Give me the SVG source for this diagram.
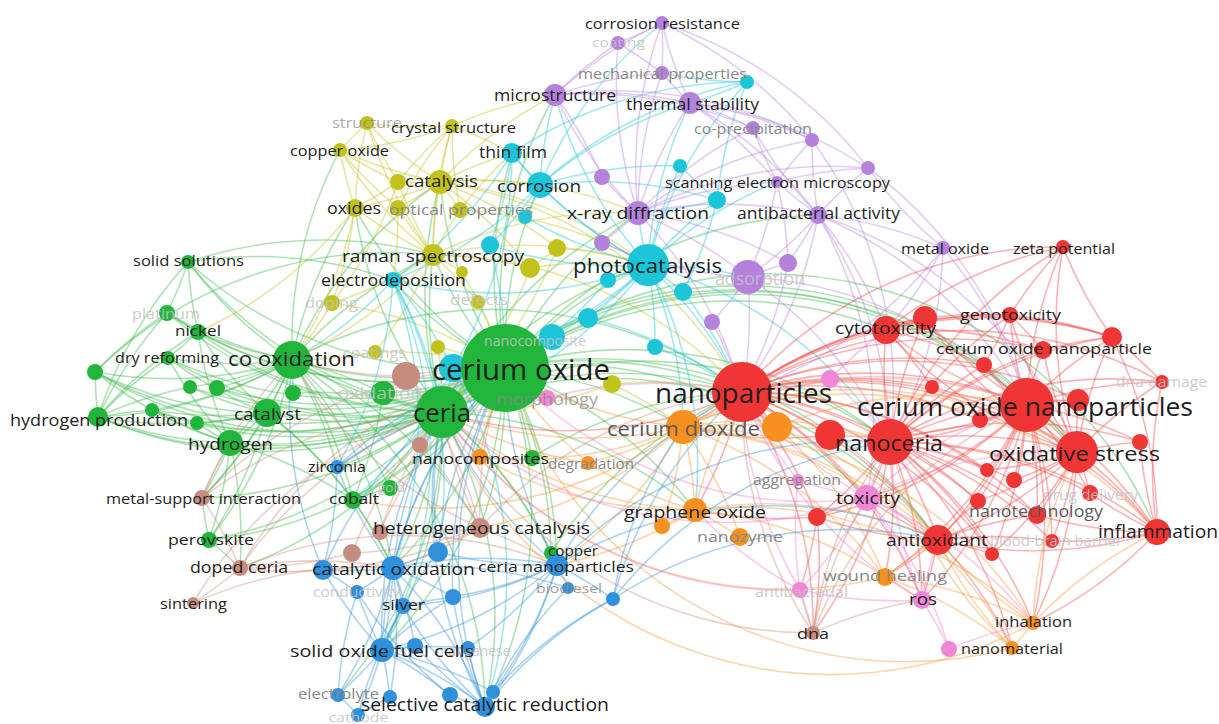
<svg xmlns="http://www.w3.org/2000/svg" width="1219" height="724" viewBox="0 0 1219 724">
<style>
.e path{fill:none;stroke-width:1.6;stroke-opacity:.42}
.g{stroke:#3dbb4c}.y{stroke:#c4c42a}.c{stroke:#22c6da}.p{stroke:#bb88e0}.r{stroke:#f24a4a}.o{stroke:#f79a3a}.k{stroke:#ef80d2}.b{stroke:#3a96de}.n{stroke:#cf8f80}
.ng{fill:#22b53c}.ny{fill:#c2c21d}.nc{fill:#1cc6d8}.np{fill:#b482dc}.nr{fill:#f03535}.no{fill:#f7901e}.nk{fill:#ef86d6}.nb{fill:#2f90db}.nn{fill:#c68c7f}
text{font-family:"Open Sans","Liberation Sans",sans-serif;text-anchor:middle;dominant-baseline:central}
.t{fill:#1e1e1e}.m{fill:#5a5a5a}.l{fill:#888}.f{fill:#c4c4c4;opacity:.85}
</style>
<rect width="1219" height="724" fill="#fff"/>
<g id="connectors" class="e">
<path class="g" d="M505 368A420 420 0 0 1 442 412"/><path class="g" d="M505 368A420 420 0 0 1 292 360"/><path class="g" d="M505 368A420 420 0 0 1 267 413"/><path class="g" d="M505 368A420 420 0 0 1 230 443"/><path class="g" d="M505 368A420 420 0 0 1 98 417"/><path class="g" d="M505 368A420 420 0 0 1 198 332"/><path class="g" d="M505 368A420 420 0 0 1 168 358"/><path class="g" d="M505 368A420 420 0 0 1 188 262"/><path class="g" d="M505 368A420 420 0 0 1 167 313"/><path class="g" d="M505 368A420 420 0 0 1 95 372"/><path class="g" d="M505 368A420 420 0 0 1 190 387"/><path class="g" d="M505 368A420 420 0 0 1 217 388"/><path class="g" d="M505 368A420 420 0 0 1 152 410"/><path class="g" d="M505 368A420 420 0 0 1 197 423"/><path class="g" d="M505 368A420 420 0 0 1 383 393"/><path class="g" d="M505 368A420 420 0 0 1 209 540"/><path class="g" d="M505 368A420 420 0 0 1 353 500"/><path class="g" d="M505 368A420 420 0 0 1 390 488"/><path class="g" d="M505 368A420 420 0 0 1 551 553"/><path class="g" d="M505 368A420 420 0 0 1 532 458"/><path class="g" d="M505 368A420 420 0 0 1 742 392"/><path class="g" d="M505 368A420 420 0 0 1 1027 405"/><path class="g" d="M505 368A420 420 0 0 1 890 442"/><path class="g" d="M505 368A420 420 0 0 1 648 265"/><path class="g" d="M505 368A420 420 0 0 1 433 255"/><path class="g" d="M505 368A420 420 0 0 1 440 182"/><path class="g" d="M505 368A420 420 0 0 1 512 153"/><path class="g" d="M505 368A420 420 0 0 1 638 213"/><path class="g" d="M505 368A420 420 0 0 1 1077 452"/><path class="g" d="M505 368A420 420 0 0 1 938 540"/><path class="g" d="M505 368A420 420 0 0 1 382 650"/><path class="g" d="M505 368A420 420 0 0 1 557 565"/><path class="g" d="M505 368A420 420 0 0 1 393 568"/><path class="g" d="M505 368A420 420 0 0 1 480 528"/><path class="g" d="M505 368A420 420 0 0 1 555 95"/><path class="g" d="M505 368A420 420 0 0 1 695 510"/><path class="g" d="M505 368A420 420 0 0 1 867 498"/><path class="g" d="M505 368A420 420 0 0 1 683 427"/><path class="g" d="M505 368A420 420 0 0 1 886 330"/><path class="g" d="M505 368A420 420 0 0 1 818 215"/><path class="g" d="M505 368A420 420 0 0 1 540 185"/><path class="g" d="M505 368A420 420 0 0 1 485 707"/><path class="g" d="M505 368A420 420 0 0 1 1157 532"/><path class="g" d="M505 368A420 420 0 0 1 393 280"/><path class="g" d="M505 368A420 420 0 0 1 355 208"/>
<path class="g" d="M442 412A420 420 0 0 1 292 360"/><path class="g" d="M442 412A420 420 0 0 1 267 413"/><path class="g" d="M442 412A420 420 0 0 1 230 443"/><path class="g" d="M442 412A420 420 0 0 1 98 417"/><path class="g" d="M442 412A420 420 0 0 1 198 332"/><path class="g" d="M442 412A420 420 0 0 1 168 358"/><path class="g" d="M442 412A420 420 0 0 1 188 262"/><path class="g" d="M442 412A420 420 0 0 1 95 372"/><path class="g" d="M442 412A420 420 0 0 1 152 410"/><path class="g" d="M442 412A420 420 0 0 1 209 540"/><path class="g" d="M442 412A420 420 0 0 1 353 500"/><path class="g" d="M442 412A420 420 0 0 1 202 498"/><path class="g" d="M442 412A420 420 0 0 1 240 568"/><path class="g" d="M442 412A420 420 0 0 1 393 568"/><path class="g" d="M442 412A420 420 0 0 1 382 650"/><path class="g" d="M442 412A420 420 0 0 1 485 707"/><path class="g" d="M442 412A420 420 0 0 1 742 392"/><path class="g" d="M442 412A420 420 0 0 1 890 442"/><path class="g" d="M442 412A420 420 0 0 1 648 265"/><path class="g" d="M442 412A420 420 0 0 1 433 255"/><path class="g" d="M442 412A420 420 0 0 1 440 182"/><path class="g" d="M442 412A420 420 0 0 1 355 208"/><path class="g" d="M442 412A420 420 0 0 1 337 467"/><path class="g" d="M442 412A420 420 0 0 1 338 695"/><path class="g" d="M442 412A420 420 0 0 1 551 553"/><path class="g" d="M442 412A420 420 0 0 1 1027 405"/><path class="g" d="M442 412A420 420 0 0 1 695 510"/><path class="g" d="M442 412A420 420 0 0 1 557 565"/><path class="g" d="M442 412A420 420 0 0 1 938 540"/><path class="g" d="M442 412A420 420 0 0 1 217 388"/><path class="g" d="M442 412A420 420 0 0 1 167 313"/><path class="g" d="M442 412A420 420 0 0 1 638 213"/><path class="g" d="M442 412A420 420 0 0 1 1077 452"/>
<path class="g" d="M292 360A420 420 0 0 1 267 413"/><path class="g" d="M292 360A420 420 0 0 1 230 443"/><path class="g" d="M292 360A420 420 0 0 1 98 417"/><path class="g" d="M292 360A420 420 0 0 1 198 332"/><path class="g" d="M292 360A420 420 0 0 1 168 358"/><path class="g" d="M292 360A420 420 0 0 1 188 262"/><path class="g" d="M292 360A420 420 0 0 1 95 372"/><path class="g" d="M292 360A420 420 0 0 1 190 387"/><path class="g" d="M292 360A420 420 0 0 1 217 388"/><path class="g" d="M292 360A420 420 0 0 1 167 313"/><path class="g" d="M292 360A420 420 0 0 1 353 500"/><path class="g" d="M292 360A420 420 0 0 1 390 488"/><path class="g" d="M292 360A420 420 0 0 1 209 540"/><path class="g" d="M292 360A420 420 0 0 1 383 393"/><path class="g" d="M292 360A420 420 0 0 1 340 150"/><path class="g" d="M292 360A420 420 0 0 1 433 255"/><path class="g" d="M292 360A420 420 0 0 1 742 392"/><path class="g" d="M292 360A420 420 0 0 1 393 568"/><path class="g" d="M292 360A420 420 0 0 1 480 528"/><path class="g" d="M292 360A420 420 0 0 1 293 393"/><path class="g" d="M292 360A420 420 0 0 1 152 410"/><path class="g" d="M292 360A420 420 0 0 1 440 182"/><path class="g" d="M292 360A420 420 0 0 1 202 498"/><path class="g" d="M292 360A420 420 0 0 1 337 467"/><path class="g" d="M292 360A420 420 0 0 1 485 707"/><path class="g" d="M292 360A420 420 0 0 1 355 208"/>
<path class="g" d="M267 413A420 420 0 0 1 230 443"/><path class="g" d="M267 413A420 420 0 0 1 98 417"/><path class="g" d="M267 413A420 420 0 0 1 152 410"/><path class="g" d="M267 413A420 420 0 0 1 197 423"/><path class="g" d="M267 413A420 420 0 0 1 198 332"/><path class="g" d="M267 413A420 420 0 0 1 209 540"/><path class="g" d="M267 413A420 420 0 0 1 353 500"/><path class="g" d="M267 413A420 420 0 0 1 190 387"/><path class="g" d="M267 413A420 420 0 0 1 168 358"/><path class="g" d="M267 413A420 420 0 0 1 202 498"/><path class="g" d="M267 413A420 420 0 0 1 95 372"/><path class="g" d="M267 413A420 420 0 0 1 393 568"/>
<path class="g" d="M230 443A420 420 0 0 1 98 417"/><path class="g" d="M230 443A420 420 0 0 1 198 332"/><path class="g" d="M230 443A420 420 0 0 1 209 540"/><path class="g" d="M230 443A420 420 0 0 1 202 498"/><path class="g" d="M230 443A420 420 0 0 1 168 358"/><path class="g" d="M230 443A420 420 0 0 1 95 372"/><path class="g" d="M230 443A420 420 0 0 1 197 423"/><path class="g" d="M230 443A420 420 0 0 1 152 410"/><path class="g" d="M230 443A420 420 0 0 1 240 568"/><path class="g" d="M230 443A420 420 0 0 1 353 500"/>
<path class="g" d="M98 417A420 420 0 0 1 198 332"/><path class="g" d="M98 417A420 420 0 0 1 168 358"/><path class="g" d="M98 417A420 420 0 0 1 95 372"/><path class="g" d="M98 417A420 420 0 0 1 152 410"/><path class="g" d="M98 417A420 420 0 0 1 167 313"/><path class="g" d="M98 417A420 420 0 0 1 190 387"/><path class="g" d="M98 417A420 420 0 0 1 188 262"/>
<path class="g" d="M198 332A420 420 0 0 1 168 358"/><path class="g" d="M198 332A420 420 0 0 1 188 262"/><path class="g" d="M198 332A420 420 0 0 1 167 313"/><path class="g" d="M95 372A420 420 0 0 1 167 313"/><path class="g" d="M188 262A420 420 0 0 1 167 313"/><path class="g" d="M188 262A420 420 0 0 1 433 255"/><path class="g" d="M188 262A420 420 0 0 1 393 280"/><path class="g" d="M209 540A420 420 0 0 1 240 568"/><path class="g" d="M209 540A420 420 0 0 1 202 498"/><path class="g" d="M383 393A420 420 0 0 1 353 500"/><path class="g" d="M353 500A420 420 0 0 1 390 488"/><path class="g" d="M551 553A420 420 0 0 1 742 392"/><path class="g" d="M551 553A420 420 0 0 1 557 565"/><path class="g" d="M532 458A420 420 0 0 1 742 392"/><path class="g" d="M353 500A420 420 0 0 1 393 568"/><path class="g" d="M293 393A420 420 0 0 1 442 412"/><path class="g" d="M95 372A420 420 0 0 1 433 255"/>
<path class="y" d="M433 255A420 420 0 0 1 440 182"/><path class="y" d="M433 255A420 420 0 0 1 355 208"/><path class="y" d="M433 255A420 420 0 0 1 398 208"/><path class="y" d="M433 255A420 420 0 0 1 452 126"/><path class="y" d="M433 255A420 420 0 0 1 367 123"/><path class="y" d="M433 255A420 420 0 0 1 340 150"/><path class="y" d="M433 255A420 420 0 0 1 648 265"/><path class="y" d="M433 255A420 420 0 0 1 638 213"/><path class="y" d="M433 255A420 420 0 0 1 332 303"/><path class="y" d="M433 255A420 420 0 0 1 478 302"/><path class="y" d="M433 255A420 420 0 0 1 530 268"/><path class="y" d="M433 255A420 420 0 0 1 742 392"/><path class="y" d="M433 255A420 420 0 0 1 398 182"/><path class="y" d="M433 255A420 420 0 0 1 460 210"/><path class="y" d="M433 255A420 420 0 0 1 462 272"/><path class="y" d="M433 255A420 420 0 0 1 292 360"/><path class="y" d="M433 255A420 420 0 0 1 375 352"/>
<path class="y" d="M440 182A420 420 0 0 1 398 182"/><path class="y" d="M440 182A420 420 0 0 1 355 208"/><path class="y" d="M440 182A420 420 0 0 1 452 126"/><path class="y" d="M440 182A420 420 0 0 1 367 123"/><path class="y" d="M440 182A420 420 0 0 1 340 150"/><path class="y" d="M440 182A420 420 0 0 1 460 210"/><path class="y" d="M440 182A420 420 0 0 1 540 185"/><path class="y" d="M440 182A420 420 0 0 1 512 153"/><path class="y" d="M440 182A420 420 0 0 1 557 248"/><path class="y" d="M440 182A420 420 0 0 1 648 265"/><path class="y" d="M440 182A420 420 0 0 1 398 208"/><path class="y" d="M440 182A420 420 0 0 1 530 268"/><path class="y" d="M440 182A420 420 0 0 1 742 392"/><path class="y" d="M440 182A420 420 0 0 1 638 213"/><path class="y" d="M440 182A420 420 0 0 1 555 95"/>
<path class="y" d="M398 182A420 420 0 0 1 367 123"/><path class="y" d="M398 182A420 420 0 0 1 340 150"/><path class="y" d="M398 182A420 420 0 0 1 355 208"/><path class="y" d="M398 182A420 420 0 0 1 452 126"/><path class="y" d="M398 182A420 420 0 0 1 332 303"/><path class="y" d="M355 208A420 420 0 0 1 340 150"/><path class="y" d="M355 208A420 420 0 0 1 367 123"/><path class="y" d="M355 208A420 420 0 0 1 332 303"/><path class="y" d="M355 208A420 420 0 0 1 292 360"/><path class="y" d="M355 208A420 420 0 0 1 198 332"/><path class="y" d="M398 208A420 420 0 0 1 340 150"/><path class="y" d="M398 208A420 420 0 0 1 452 126"/><path class="y" d="M398 208A420 420 0 0 1 393 280"/><path class="y" d="M460 210A420 420 0 0 1 452 126"/><path class="y" d="M460 210A420 420 0 0 1 512 153"/><path class="y" d="M460 210A420 420 0 0 1 648 265"/><path class="y" d="M452 126A420 420 0 0 1 367 123"/><path class="y" d="M452 126A420 420 0 0 1 512 153"/><path class="y" d="M452 126A420 420 0 0 1 555 95"/><path class="y" d="M452 126A420 420 0 0 1 340 150"/><path class="y" d="M340 150A420 420 0 0 1 367 123"/>
<path class="y" d="M530 268A420 420 0 0 1 648 265"/><path class="y" d="M530 268A420 420 0 0 1 442 412"/><path class="y" d="M557 248A420 420 0 0 1 648 265"/><path class="y" d="M557 248A420 420 0 0 1 442 412"/><path class="y" d="M557 248A420 420 0 0 1 530 268"/><path class="y" d="M478 302A420 420 0 0 1 505 368"/><path class="y" d="M332 303A420 420 0 0 1 505 368"/><path class="y" d="M332 303A420 420 0 0 1 292 360"/><path class="y" d="M375 352A420 420 0 0 1 505 368"/><path class="y" d="M375 352A420 420 0 0 1 292 360"/><path class="y" d="M438 347A420 420 0 0 1 505 368"/><path class="y" d="M438 347A420 420 0 0 1 442 412"/><path class="y" d="M612 384A420 420 0 0 1 742 392"/><path class="y" d="M612 384A420 420 0 0 1 683 427"/><path class="y" d="M612 384A420 420 0 0 1 442 412"/><path class="y" d="M462 272A420 420 0 0 1 505 368"/>
<path class="c" d="M648 265A420 420 0 0 1 540 185"/><path class="c" d="M648 265A420 420 0 0 1 512 153"/><path class="c" d="M648 265A420 420 0 0 1 525 217"/><path class="c" d="M648 265A420 420 0 0 1 490 245"/><path class="c" d="M648 265A420 420 0 0 1 608 280"/><path class="c" d="M648 265A420 420 0 0 1 683 292"/><path class="c" d="M648 265A420 420 0 0 1 717 200"/><path class="c" d="M648 265A420 420 0 0 1 680 166"/><path class="c" d="M648 265A420 420 0 0 1 747 82"/><path class="c" d="M648 265A420 420 0 0 1 588 318"/><path class="c" d="M648 265A420 420 0 0 1 552 337"/><path class="c" d="M648 265A420 420 0 0 1 655 347"/><path class="c" d="M648 265A420 420 0 0 1 453 368"/><path class="c" d="M648 265A420 420 0 0 1 393 280"/><path class="c" d="M648 265A420 420 0 0 1 742 392"/><path class="c" d="M648 265A420 420 0 0 1 638 213"/><path class="c" d="M648 265A420 420 0 0 1 748 277"/><path class="c" d="M648 265A420 420 0 0 1 695 510"/><path class="c" d="M648 265A420 420 0 0 1 683 427"/><path class="c" d="M648 265A420 420 0 0 1 690 103"/><path class="c" d="M648 265A420 420 0 0 1 555 95"/><path class="c" d="M648 265A420 420 0 0 1 777 182"/><path class="c" d="M648 265A420 420 0 0 1 890 442"/><path class="c" d="M648 265A420 420 0 0 1 442 412"/>
<path class="c" d="M540 185A420 420 0 0 1 512 153"/><path class="c" d="M540 185A420 420 0 0 1 525 217"/><path class="c" d="M540 185A420 420 0 0 1 747 82"/><path class="c" d="M540 185A420 420 0 0 1 555 95"/><path class="c" d="M540 185A420 420 0 0 1 393 280"/><path class="c" d="M540 185A420 420 0 0 1 490 245"/><path class="c" d="M540 185A420 420 0 0 1 680 166"/><path class="c" d="M540 185A420 420 0 0 1 662 23"/><path class="c" d="M540 185A420 420 0 0 1 717 200"/><path class="c" d="M540 185A420 420 0 0 1 690 103"/><path class="c" d="M512 153A420 420 0 0 1 490 245"/><path class="c" d="M512 153A420 420 0 0 1 393 280"/><path class="c" d="M512 153A420 420 0 0 1 747 82"/><path class="c" d="M512 153A420 420 0 0 1 453 368"/><path class="c" d="M717 200A420 420 0 0 1 680 166"/><path class="c" d="M717 200A420 420 0 0 1 747 82"/><path class="c" d="M717 200A420 420 0 0 1 638 213"/><path class="c" d="M717 200A420 420 0 0 1 683 292"/><path class="c" d="M747 82A420 420 0 0 1 690 103"/><path class="c" d="M747 82A420 420 0 0 1 662 73"/>
<path class="c" d="M393 280A420 420 0 0 1 453 368"/><path class="c" d="M393 280A420 420 0 0 1 442 412"/><path class="c" d="M393 280A420 420 0 0 1 292 360"/><path class="c" d="M393 280A420 420 0 0 1 337 467"/><path class="c" d="M393 280A420 420 0 0 1 393 568"/><path class="c" d="M393 280A420 420 0 0 1 382 650"/><path class="c" d="M393 280A420 420 0 0 1 438 552"/><path class="c" d="M453 368A420 420 0 0 1 442 412"/><path class="c" d="M453 368A420 420 0 0 1 353 500"/><path class="c" d="M453 368A420 420 0 0 1 337 467"/><path class="c" d="M453 368A420 420 0 0 1 485 707"/><path class="c" d="M552 337A420 420 0 0 1 505 368"/><path class="c" d="M588 318A420 420 0 0 1 742 392"/><path class="c" d="M655 347A420 420 0 0 1 742 392"/><path class="c" d="M683 292A420 420 0 0 1 742 392"/><path class="c" d="M608 280A420 420 0 0 1 505 368"/><path class="c" d="M490 245A420 420 0 0 1 505 368"/>
<path class="p" d="M638 213A420 420 0 0 1 555 95"/><path class="p" d="M638 213A420 420 0 0 1 690 103"/><path class="p" d="M638 213A420 420 0 0 1 777 182"/><path class="p" d="M638 213A420 420 0 0 1 818 215"/><path class="p" d="M638 213A420 420 0 0 1 753 128"/><path class="p" d="M638 213A420 420 0 0 1 602 177"/><path class="p" d="M638 213A420 420 0 0 1 602 243"/><path class="p" d="M638 213A420 420 0 0 1 748 277"/><path class="p" d="M638 213A420 420 0 0 1 812 140"/><path class="p" d="M638 213A420 420 0 0 1 868 168"/><path class="p" d="M638 213A420 420 0 0 1 662 23"/><path class="p" d="M638 213A420 420 0 0 1 618 43"/><path class="p" d="M638 213A420 420 0 0 1 662 73"/><path class="p" d="M638 213A420 420 0 0 1 742 392"/><path class="p" d="M638 213A420 420 0 0 1 788 263"/>
<path class="p" d="M555 95A420 420 0 0 1 690 103"/><path class="p" d="M555 95A420 420 0 0 1 662 23"/><path class="p" d="M555 95A420 420 0 0 1 618 43"/><path class="p" d="M555 95A420 420 0 0 1 662 73"/><path class="p" d="M555 95A420 420 0 0 1 602 177"/><path class="p" d="M555 95A420 420 0 0 1 753 128"/><path class="p" d="M555 95A420 420 0 0 1 812 140"/><path class="p" d="M690 103A420 420 0 0 1 662 23"/><path class="p" d="M690 103A420 420 0 0 1 662 73"/><path class="p" d="M690 103A420 420 0 0 1 753 128"/><path class="p" d="M690 103A420 420 0 0 1 777 182"/><path class="p" d="M690 103A420 420 0 0 1 812 140"/><path class="p" d="M690 103A420 420 0 0 1 868 168"/><path class="p" d="M690 103A420 420 0 0 1 818 215"/><path class="p" d="M662 23A420 420 0 0 1 618 43"/><path class="p" d="M662 23A420 420 0 0 1 662 73"/><path class="p" d="M662 23A420 420 0 0 1 868 168"/><path class="p" d="M662 23A420 420 0 0 1 812 140"/><path class="p" d="M618 43A420 420 0 0 1 662 73"/>
<path class="p" d="M818 215A420 420 0 0 1 777 182"/><path class="p" d="M818 215A420 420 0 0 1 812 140"/><path class="p" d="M818 215A420 420 0 0 1 868 168"/><path class="p" d="M818 215A420 420 0 0 1 943 248"/><path class="p" d="M818 215A420 420 0 0 1 748 277"/><path class="p" d="M818 215A420 420 0 0 1 788 263"/><path class="p" d="M818 215A420 420 0 0 1 742 392"/><path class="p" d="M818 215A420 420 0 0 1 867 498"/><path class="p" d="M818 215A420 420 0 0 1 886 330"/><path class="p" d="M818 215A420 420 0 0 1 753 128"/><path class="p" d="M818 215A420 420 0 0 1 1027 405"/><path class="p" d="M818 215A420 420 0 0 1 1077 452"/><path class="p" d="M818 215A420 420 0 0 1 890 442"/><path class="p" d="M777 182A420 420 0 0 1 812 140"/><path class="p" d="M777 182A420 420 0 0 1 868 168"/><path class="p" d="M777 182A420 420 0 0 1 748 277"/><path class="p" d="M777 182A420 420 0 0 1 788 263"/><path class="p" d="M777 182A420 420 0 0 1 753 128"/>
<path class="p" d="M748 277A420 420 0 0 1 788 263"/><path class="p" d="M748 277A420 420 0 0 1 712 322"/><path class="p" d="M748 277A420 420 0 0 1 742 392"/><path class="p" d="M748 277A420 420 0 0 1 602 243"/><path class="p" d="M748 277A420 420 0 0 1 890 442"/><path class="p" d="M748 277A420 420 0 0 1 1027 405"/><path class="p" d="M943 248A420 420 0 0 1 886 330"/><path class="p" d="M943 248A420 420 0 0 1 742 392"/><path class="p" d="M943 248A420 420 0 0 1 868 168"/><path class="p" d="M943 248A420 420 0 0 1 890 442"/><path class="p" d="M943 248A420 420 0 0 1 1027 405"/><path class="p" d="M868 168A420 420 0 0 1 1027 405"/><path class="p" d="M812 140A420 420 0 0 1 890 442"/><path class="p" d="M712 322A420 420 0 0 1 742 392"/><path class="p" d="M788 263A420 420 0 0 1 742 392"/>
<path class="r" d="M742 392A420 420 0 0 1 1027 405"/><path class="r" d="M742 392A420 420 0 0 1 890 442"/><path class="r" d="M742 392A420 420 0 0 1 1077 452"/><path class="r" d="M742 392A420 420 0 0 1 886 330"/><path class="r" d="M742 392A420 420 0 0 1 925 318"/><path class="r" d="M742 392A420 420 0 0 1 1010 315"/><path class="r" d="M742 392A420 420 0 0 1 1043 350"/><path class="r" d="M742 392A420 420 0 0 1 1112 337"/><path class="r" d="M742 392A420 420 0 0 1 984 365"/><path class="r" d="M742 392A420 420 0 0 1 932 387"/><path class="r" d="M742 392A420 420 0 0 1 980 420"/><path class="r" d="M742 392A420 420 0 0 1 830 435"/><path class="r" d="M742 392A420 420 0 0 1 1157 532"/><path class="r" d="M742 392A420 420 0 0 1 938 540"/><path class="r" d="M742 392A420 420 0 0 1 1037 515"/><path class="r" d="M742 392A420 420 0 0 1 867 498"/><path class="r" d="M742 392A420 420 0 0 1 817 517"/><path class="r" d="M742 392A420 420 0 0 1 1063 247"/><path class="r" d="M742 392A420 420 0 0 1 992 554"/><path class="r" d="M742 392A420 420 0 0 1 987 470"/><path class="r" d="M742 392A420 420 0 0 1 978 501"/><path class="r" d="M742 392A420 420 0 0 1 683 427"/><path class="r" d="M742 392A420 420 0 0 1 813 633"/><path class="r" d="M742 392A420 420 0 0 1 922 600"/><path class="r" d="M742 392A420 420 0 0 1 777 427"/><path class="r" d="M742 392A420 420 0 0 1 695 510"/><path class="r" d="M742 392A420 420 0 0 1 442 412"/><path class="r" d="M742 392A420 420 0 0 1 1078 400"/><path class="r" d="M742 392A420 420 0 0 1 1162 382"/>
<path class="r" d="M1027 405A420 420 0 0 1 890 442"/><path class="r" d="M1027 405A420 420 0 0 1 1077 452"/><path class="r" d="M1027 405A420 420 0 0 1 886 330"/><path class="r" d="M1027 405A420 420 0 0 1 925 318"/><path class="r" d="M1027 405A420 420 0 0 1 1010 315"/><path class="r" d="M1027 405A420 420 0 0 1 1043 350"/><path class="r" d="M1027 405A420 420 0 0 1 1112 337"/><path class="r" d="M1027 405A420 420 0 0 1 1162 382"/><path class="r" d="M1027 405A420 420 0 0 1 1063 247"/><path class="r" d="M1027 405A420 420 0 0 1 984 365"/><path class="r" d="M1027 405A420 420 0 0 1 932 387"/><path class="r" d="M1027 405A420 420 0 0 1 980 420"/><path class="r" d="M1027 405A420 420 0 0 1 1078 400"/><path class="r" d="M1027 405A420 420 0 0 1 830 435"/><path class="r" d="M1027 405A420 420 0 0 1 1157 532"/><path class="r" d="M1027 405A420 420 0 0 1 938 540"/><path class="r" d="M1027 405A420 420 0 0 1 1037 515"/><path class="r" d="M1027 405A420 420 0 0 1 1090 493"/><path class="r" d="M1027 405A420 420 0 0 1 1052 541"/><path class="r" d="M1027 405A420 420 0 0 1 992 554"/><path class="r" d="M1027 405A420 420 0 0 1 987 470"/><path class="r" d="M1027 405A420 420 0 0 1 1014 480"/><path class="r" d="M1027 405A420 420 0 0 1 978 501"/><path class="r" d="M1027 405A420 420 0 0 1 1140 442"/><path class="r" d="M1027 405A420 420 0 0 1 867 498"/><path class="r" d="M1027 405A420 420 0 0 1 817 517"/><path class="r" d="M1027 405A420 420 0 0 1 1033 623"/><path class="r" d="M1027 405A420 420 0 0 1 922 600"/><path class="r" d="M1027 405A420 420 0 0 1 885 577"/>
<path class="r" d="M890 442A420 420 0 0 1 1077 452"/><path class="r" d="M890 442A420 420 0 0 1 886 330"/><path class="r" d="M890 442A420 420 0 0 1 925 318"/><path class="r" d="M890 442A420 420 0 0 1 1010 315"/><path class="r" d="M890 442A420 420 0 0 1 1043 350"/><path class="r" d="M890 442A420 420 0 0 1 1112 337"/><path class="r" d="M890 442A420 420 0 0 1 984 365"/><path class="r" d="M890 442A420 420 0 0 1 932 387"/><path class="r" d="M890 442A420 420 0 0 1 1078 400"/><path class="r" d="M890 442A420 420 0 0 1 1157 532"/><path class="r" d="M890 442A420 420 0 0 1 938 540"/><path class="r" d="M890 442A420 420 0 0 1 1037 515"/><path class="r" d="M890 442A420 420 0 0 1 1090 493"/><path class="r" d="M890 442A420 420 0 0 1 1052 541"/><path class="r" d="M890 442A420 420 0 0 1 992 554"/><path class="r" d="M890 442A420 420 0 0 1 987 470"/><path class="r" d="M890 442A420 420 0 0 1 1014 480"/><path class="r" d="M890 442A420 420 0 0 1 978 501"/><path class="r" d="M890 442A420 420 0 0 1 1140 442"/><path class="r" d="M890 442A420 420 0 0 1 867 498"/><path class="r" d="M890 442A420 420 0 0 1 817 517"/><path class="r" d="M890 442A420 420 0 0 1 1063 247"/><path class="r" d="M890 442A420 420 0 0 1 1162 382"/><path class="r" d="M890 442A420 420 0 0 1 885 577"/><path class="r" d="M890 442A420 420 0 0 1 922 600"/><path class="r" d="M890 442A420 420 0 0 1 1033 623"/><path class="r" d="M890 442A420 420 0 0 1 1012 648"/><path class="r" d="M890 442A420 420 0 0 1 813 633"/>
<path class="r" d="M1077 452A420 420 0 0 1 886 330"/><path class="r" d="M1077 452A420 420 0 0 1 925 318"/><path class="r" d="M1077 452A420 420 0 0 1 1010 315"/><path class="r" d="M1077 452A420 420 0 0 1 1043 350"/><path class="r" d="M1077 452A420 420 0 0 1 1112 337"/><path class="r" d="M1077 452A420 420 0 0 1 1162 382"/><path class="r" d="M1077 452A420 420 0 0 1 1157 532"/><path class="r" d="M1077 452A420 420 0 0 1 938 540"/><path class="r" d="M1077 452A420 420 0 0 1 1037 515"/><path class="r" d="M1077 452A420 420 0 0 1 1090 493"/><path class="r" d="M1077 452A420 420 0 0 1 1140 442"/><path class="r" d="M1077 452A420 420 0 0 1 1078 400"/><path class="r" d="M1077 452A420 420 0 0 1 1014 480"/><path class="r" d="M1077 452A420 420 0 0 1 1063 247"/><path class="r" d="M1077 452A420 420 0 0 1 1033 623"/><path class="r" d="M1077 452A420 420 0 0 1 984 365"/><path class="r" d="M1077 452A420 420 0 0 1 987 470"/><path class="r" d="M1077 452A420 420 0 0 1 978 501"/><path class="r" d="M1077 452A420 420 0 0 1 1052 541"/><path class="r" d="M1077 452A420 420 0 0 1 992 554"/>
<path class="r" d="M886 330A420 420 0 0 1 925 318"/><path class="r" d="M886 330A420 420 0 0 1 1010 315"/><path class="r" d="M886 330A420 420 0 0 1 1043 350"/><path class="r" d="M886 330A420 420 0 0 1 984 365"/><path class="r" d="M886 330A420 420 0 0 1 1063 247"/><path class="r" d="M886 330A420 420 0 0 1 932 387"/><path class="r" d="M886 330A420 420 0 0 1 1112 337"/><path class="r" d="M1010 315A420 420 0 0 1 1043 350"/><path class="r" d="M1010 315A420 420 0 0 1 1063 247"/><path class="r" d="M1010 315A420 420 0 0 1 1112 337"/><path class="r" d="M1010 315A420 420 0 0 1 984 365"/><path class="r" d="M1112 337A420 420 0 0 1 1063 247"/><path class="r" d="M1112 337A420 420 0 0 1 1162 382"/><path class="r" d="M1112 337A420 420 0 0 1 1157 532"/><path class="r" d="M1043 350A420 420 0 0 1 1112 337"/>
<path class="r" d="M1157 532A420 420 0 0 1 938 540"/><path class="r" d="M1157 532A420 420 0 0 1 1090 493"/><path class="r" d="M1157 532A420 420 0 0 1 1140 442"/><path class="r" d="M1157 532A420 420 0 0 1 1033 623"/><path class="r" d="M1157 532A420 420 0 0 1 1037 515"/><path class="r" d="M1157 532A420 420 0 0 1 1052 541"/><path class="r" d="M1157 532A420 420 0 0 1 1162 382"/><path class="r" d="M938 540A420 420 0 0 1 1037 515"/><path class="r" d="M938 540A420 420 0 0 1 978 501"/><path class="r" d="M938 540A420 420 0 0 1 992 554"/><path class="r" d="M938 540A420 420 0 0 1 922 600"/><path class="r" d="M938 540A420 420 0 0 1 885 577"/><path class="r" d="M938 540A420 420 0 0 1 817 517"/><path class="r" d="M938 540A420 420 0 0 1 1052 541"/><path class="r" d="M938 540A420 420 0 0 1 867 498"/><path class="r" d="M938 540A420 420 0 0 1 1012 648"/><path class="r" d="M817 517A420 420 0 0 1 867 498"/><path class="r" d="M830 435A420 420 0 0 1 683 427"/><path class="r" d="M817 517A420 420 0 0 1 813 633"/><path class="r" d="M817 517A420 420 0 0 1 800 590"/><path class="r" d="M817 517A420 420 0 0 1 695 510"/>
<path class="o" d="M683 427A420 420 0 0 1 742 392"/><path class="o" d="M683 427A420 420 0 0 1 695 510"/><path class="o" d="M683 427A420 420 0 0 1 777 427"/><path class="o" d="M683 427A420 420 0 0 1 740 537"/><path class="o" d="M683 427A420 420 0 0 1 588 463"/><path class="o" d="M683 427A420 420 0 0 1 480 457"/><path class="o" d="M683 427A420 420 0 0 1 662 526"/><path class="o" d="M683 427A420 420 0 0 1 885 577"/><path class="o" d="M683 427A420 420 0 0 1 1033 623"/><path class="o" d="M683 427A420 420 0 0 1 1012 648"/><path class="o" d="M683 427A420 420 0 0 1 442 412"/><path class="o" d="M683 427A420 420 0 0 1 505 368"/><path class="o" d="M683 427A420 420 0 0 1 938 540"/><path class="o" d="M683 427A420 420 0 0 1 890 442"/><path class="o" d="M683 427A420 420 0 0 1 1027 405"/><path class="o" d="M683 427A420 420 0 0 1 1077 452"/><path class="o" d="M683 427A420 420 0 0 1 1157 532"/><path class="o" d="M683 427A420 420 0 0 1 480 528"/><path class="o" d="M683 427A420 420 0 0 1 557 565"/><path class="o" d="M683 427A420 420 0 0 1 353 500"/>
<path class="o" d="M695 510A420 420 0 0 1 662 526"/><path class="o" d="M695 510A420 420 0 0 1 740 537"/><path class="o" d="M695 510A420 420 0 0 1 742 392"/><path class="o" d="M695 510A420 420 0 0 1 588 463"/><path class="o" d="M695 510A420 420 0 0 1 480 457"/><path class="o" d="M695 510A420 420 0 0 1 885 577"/><path class="o" d="M695 510A420 420 0 0 1 557 565"/><path class="o" d="M695 510A420 420 0 0 1 442 412"/><path class="o" d="M695 510A420 420 0 0 1 938 540"/><path class="o" d="M695 510A420 420 0 0 1 1033 623"/><path class="o" d="M777 427A420 420 0 0 1 890 442"/><path class="o" d="M777 427A420 420 0 0 1 1027 405"/><path class="o" d="M777 427A420 420 0 0 1 885 577"/><path class="o" d="M777 427A420 420 0 0 1 938 540"/><path class="o" d="M777 427A420 420 0 0 1 742 392"/><path class="o" d="M885 577A420 420 0 0 1 938 540"/><path class="o" d="M885 577A420 420 0 0 1 922 600"/><path class="o" d="M885 577A420 420 0 0 1 1033 623"/><path class="o" d="M885 577A420 420 0 0 1 1012 648"/><path class="o" d="M1033 623A420 420 0 0 1 1012 648"/><path class="o" d="M1033 623A420 420 0 0 1 1077 452"/><path class="o" d="M1033 623A420 420 0 0 1 938 540"/><path class="o" d="M1033 623A420 420 0 0 1 1157 532"/><path class="o" d="M1012 648A420 420 0 0 1 938 540"/><path class="o" d="M1012 648A420 420 0 0 1 890 442"/><path class="o" d="M480 457A420 420 0 0 1 442 412"/><path class="o" d="M480 457A420 420 0 0 1 505 368"/><path class="o" d="M588 463A420 420 0 0 1 505 368"/><path class="o" d="M588 463A420 420 0 0 1 442 412"/><path class="o" d="M1033 623A420 420 0 0 1 442 412"/><path class="o" d="M1012 648A420 420 0 0 1 505 368"/><path class="o" d="M885 577A420 420 0 0 1 442 412"/>
<path class="k" d="M867 498A420 420 0 0 1 742 392"/><path class="k" d="M867 498A420 420 0 0 1 890 442"/><path class="k" d="M867 498A420 420 0 0 1 1027 405"/><path class="k" d="M867 498A420 420 0 0 1 922 600"/><path class="k" d="M867 498A420 420 0 0 1 800 590"/><path class="k" d="M867 498A420 420 0 0 1 798 480"/><path class="k" d="M867 498A420 420 0 0 1 1077 452"/><path class="k" d="M867 498A420 420 0 0 1 938 540"/><path class="k" d="M867 498A420 420 0 0 1 949 649"/><path class="k" d="M867 498A420 420 0 0 1 1033 623"/><path class="k" d="M867 498A420 420 0 0 1 442 412"/><path class="k" d="M867 498A420 420 0 0 1 505 368"/><path class="k" d="M922 600A420 420 0 0 1 949 649"/><path class="k" d="M922 600A420 420 0 0 1 938 540"/><path class="k" d="M922 600A420 420 0 0 1 800 590"/><path class="k" d="M922 600A420 420 0 0 1 890 442"/><path class="k" d="M922 600A420 420 0 0 1 742 392"/><path class="k" d="M800 590A420 420 0 0 1 798 480"/><path class="k" d="M800 590A420 420 0 0 1 742 392"/><path class="k" d="M800 590A420 420 0 0 1 695 510"/><path class="k" d="M800 590A420 420 0 0 1 813 633"/><path class="k" d="M800 590A420 420 0 0 1 442 412"/><path class="k" d="M798 480A420 420 0 0 1 742 392"/><path class="k" d="M547 398A420 420 0 0 1 505 368"/><path class="k" d="M547 398A420 420 0 0 1 742 392"/><path class="k" d="M547 398A420 420 0 0 1 442 412"/><path class="k" d="M830 379A420 420 0 0 1 742 392"/><path class="k" d="M830 379A420 420 0 0 1 886 330"/><path class="k" d="M830 379A420 420 0 0 1 1027 405"/><path class="k" d="M830 379A420 420 0 0 1 890 442"/><path class="k" d="M949 649A420 420 0 0 1 1033 623"/>
<path class="b" d="M393 568A420 420 0 0 1 323 570"/><path class="b" d="M393 568A420 420 0 0 1 557 565"/><path class="b" d="M393 568A420 420 0 0 1 337 467"/><path class="b" d="M393 568A420 420 0 0 1 403 606"/><path class="b" d="M393 568A420 420 0 0 1 357 592"/><path class="b" d="M393 568A420 420 0 0 1 382 650"/><path class="b" d="M393 568A420 420 0 0 1 453 597"/><path class="b" d="M393 568A420 420 0 0 1 438 552"/><path class="b" d="M393 568A420 420 0 0 1 485 707"/><path class="b" d="M393 568A420 420 0 0 1 442 412"/><path class="b" d="M393 568A420 420 0 0 1 505 368"/><path class="b" d="M393 568A420 420 0 0 1 568 588"/><path class="b" d="M393 568A420 420 0 0 1 390 697"/><path class="b" d="M393 568A420 420 0 0 1 338 695"/><path class="b" d="M393 568A420 420 0 0 1 415 646"/>
<path class="b" d="M557 565A420 420 0 0 1 453 597"/><path class="b" d="M557 565A420 420 0 0 1 568 588"/><path class="b" d="M557 565A420 420 0 0 1 613 599"/><path class="b" d="M557 565A420 420 0 0 1 438 552"/><path class="b" d="M557 565A420 420 0 0 1 485 707"/><path class="b" d="M557 565A420 420 0 0 1 382 650"/><path class="b" d="M557 565A420 420 0 0 1 442 412"/><path class="b" d="M557 565A420 420 0 0 1 505 368"/><path class="b" d="M557 565A420 420 0 0 1 742 392"/><path class="b" d="M557 565A420 420 0 0 1 493 692"/><path class="b" d="M557 565A420 420 0 0 1 403 606"/><path class="b" d="M557 565A420 420 0 0 1 468 648"/><path class="b" d="M557 565A420 420 0 0 1 938 540"/><path class="b" d="M557 565A420 420 0 0 1 890 442"/>
<path class="b" d="M382 650A420 420 0 0 1 338 695"/><path class="b" d="M382 650A420 420 0 0 1 358 715"/><path class="b" d="M382 650A420 420 0 0 1 403 606"/><path class="b" d="M382 650A420 420 0 0 1 415 646"/><path class="b" d="M382 650A420 420 0 0 1 468 648"/><path class="b" d="M382 650A420 420 0 0 1 390 697"/><path class="b" d="M382 650A420 420 0 0 1 450 695"/><path class="b" d="M382 650A420 420 0 0 1 485 707"/><path class="b" d="M382 650A420 420 0 0 1 357 592"/><path class="b" d="M382 650A420 420 0 0 1 323 570"/><path class="b" d="M382 650A420 420 0 0 1 442 412"/><path class="b" d="M382 650A420 420 0 0 1 505 368"/><path class="b" d="M382 650A420 420 0 0 1 453 597"/><path class="b" d="M382 650A420 420 0 0 1 493 692"/><path class="b" d="M382 650A420 420 0 0 1 438 552"/>
<path class="b" d="M485 707A420 420 0 0 1 493 692"/><path class="b" d="M485 707A420 420 0 0 1 450 695"/><path class="b" d="M485 707A420 420 0 0 1 613 599"/><path class="b" d="M485 707A420 420 0 0 1 468 648"/><path class="b" d="M485 707A420 420 0 0 1 453 597"/><path class="b" d="M485 707A420 420 0 0 1 442 412"/><path class="b" d="M485 707A420 420 0 0 1 505 368"/><path class="b" d="M485 707A420 420 0 0 1 568 588"/><path class="b" d="M485 707A420 420 0 0 1 403 606"/><path class="b" d="M485 707A420 420 0 0 1 415 646"/><path class="b" d="M493 692A420 420 0 0 1 613 599"/><path class="b" d="M450 695A420 420 0 0 1 357 592"/><path class="b" d="M338 695A420 420 0 0 1 358 715"/><path class="b" d="M338 695A420 420 0 0 1 357 592"/><path class="b" d="M358 715A420 420 0 0 1 390 697"/><path class="b" d="M358 715A420 420 0 0 1 403 606"/>
<path class="b" d="M337 467A420 420 0 0 1 323 570"/><path class="b" d="M337 467A420 420 0 0 1 442 412"/><path class="b" d="M337 467A420 420 0 0 1 505 368"/><path class="b" d="M438 552A420 420 0 0 1 442 412"/><path class="b" d="M438 552A420 420 0 0 1 505 368"/><path class="b" d="M403 606A420 420 0 0 1 453 597"/><path class="b" d="M613 599A420 420 0 0 1 742 392"/><path class="b" d="M613 599A420 420 0 0 1 683 427"/><path class="b" d="M453 597A420 420 0 0 1 505 368"/><path class="b" d="M323 570A420 420 0 0 1 442 412"/><path class="b" d="M323 570A420 420 0 0 1 292 360"/><path class="b" d="M323 570A420 420 0 0 1 357 592"/><path class="b" d="M613 599A420 420 0 0 1 938 540"/><path class="b" d="M613 599A420 420 0 0 1 890 442"/>
<path class="n" d="M406 376A420 420 0 0 1 505 368"/><path class="n" d="M406 376A420 420 0 0 1 442 412"/><path class="n" d="M406 376A420 420 0 0 1 292 360"/><path class="n" d="M406 376A420 420 0 0 1 480 528"/><path class="n" d="M406 376A420 420 0 0 1 383 393"/><path class="n" d="M420 445A420 420 0 0 1 442 412"/><path class="n" d="M420 445A420 420 0 0 1 480 528"/><path class="n" d="M420 445A420 420 0 0 1 505 368"/><path class="n" d="M480 528A420 420 0 0 1 505 368"/><path class="n" d="M480 528A420 420 0 0 1 442 412"/><path class="n" d="M480 528A420 420 0 0 1 380 532"/><path class="n" d="M480 528A420 420 0 0 1 352 553"/><path class="n" d="M480 528A420 420 0 0 1 393 568"/><path class="n" d="M480 528A420 420 0 0 1 557 565"/><path class="n" d="M480 528A420 420 0 0 1 292 360"/><path class="n" d="M480 528A420 420 0 0 1 240 568"/><path class="n" d="M480 528A420 420 0 0 1 742 392"/><path class="n" d="M380 532A420 420 0 0 1 442 412"/><path class="n" d="M380 532A420 420 0 0 1 505 368"/><path class="n" d="M352 553A420 420 0 0 1 240 568"/><path class="n" d="M352 553A420 420 0 0 1 442 412"/><path class="n" d="M202 498A420 420 0 0 1 240 568"/><path class="n" d="M202 498A420 420 0 0 1 442 412"/><path class="n" d="M202 498A420 420 0 0 1 230 443"/><path class="n" d="M202 498A420 420 0 0 1 505 368"/><path class="n" d="M202 498A420 420 0 0 1 292 360"/><path class="n" d="M240 568A420 420 0 0 1 193 603"/><path class="n" d="M240 568A420 420 0 0 1 442 412"/><path class="n" d="M240 568A420 420 0 0 1 393 568"/><path class="n" d="M240 568A420 420 0 0 1 505 368"/><path class="n" d="M240 568A420 420 0 0 1 557 565"/><path class="n" d="M193 603A420 420 0 0 1 442 412"/><path class="n" d="M193 603A420 420 0 0 1 393 568"/><path class="n" d="M813 633A420 420 0 0 1 742 392"/><path class="n" d="M813 633A420 420 0 0 1 890 442"/><path class="n" d="M813 633A420 420 0 0 1 922 600"/><path class="n" d="M813 633A420 420 0 0 1 867 498"/><path class="n" d="M813 633A420 420 0 0 1 442 412"/><path class="n" d="M813 633A420 420 0 0 1 1027 405"/><path class="n" d="M813 633A420 420 0 0 1 800 590"/>
</g>
<g id="nodes">
<g id="node-solid-solutions"><circle class="ng" cx="188" cy="262" r="7"/></g>
<g id="node-platinum"><circle class="ng" cx="167" cy="313" r="8"/></g>
<g id="node-nickel"><circle class="ng" cx="198" cy="332" r="8"/></g>
<g id="node-dry-reforming"><circle class="ng" cx="168" cy="358" r="7"/></g>
<g id="node-g1"><circle class="ng" cx="95" cy="372" r="8"/></g>
<g id="node-g2"><circle class="ng" cx="190" cy="387" r="7"/></g>
<g id="node-g3"><circle class="ng" cx="217" cy="388" r="8"/></g>
<g id="node-g4"><circle class="ng" cx="152" cy="410" r="7"/></g>
<g id="node-g5"><circle class="ng" cx="197" cy="423" r="7"/></g>
<g id="node-g6"><circle class="ng" cx="293" cy="393" r="8"/></g>
<g id="node-hydrogen-production"><circle class="ng" cx="98" cy="417" r="10"/></g>
<g id="node-catalyst"><circle class="ng" cx="267" cy="413" r="14"/></g>
<g id="node-hydrogen"><circle class="ng" cx="230" cy="443" r="13"/></g>
<g id="node-co-oxidation"><circle class="ng" cx="292" cy="360" r="19"/></g>
<g id="node-oxidation"><circle class="ng" cx="383" cy="393" r="12"/></g>
<g id="node-perovskite"><circle class="ng" cx="209" cy="540" r="8"/></g>
<g id="node-cobalt"><circle class="ng" cx="353" cy="500" r="9"/></g>
<g id="node-gold"><circle class="ng" cx="390" cy="488" r="8"/></g>
<g id="node-copper"><circle class="ng" cx="551" cy="553" r="7"/></g>
<g id="node-g7"><circle class="ng" cx="532" cy="458" r="8"/></g>
<g id="node-structure"><circle class="ny" cx="367" cy="123" r="7"/></g>
<g id="node-crystal-structure"><circle class="ny" cx="452" cy="126" r="7"/></g>
<g id="node-copper-oxide"><circle class="ny" cx="340" cy="150" r="7"/></g>
<g id="node-catalysis"><circle class="ny" cx="440" cy="182" r="12"/><circle class="ny" cx="398" cy="182" r="8"/></g>
<g id="node-oxides"><circle class="ny" cx="355" cy="208" r="9"/></g>
<g id="node-optical-properties"><circle class="ny" cx="398" cy="208" r="8"/><circle class="ny" cx="460" cy="210" r="8"/></g>
<g id="node-raman-spectroscopy"><circle class="ny" cx="433" cy="255" r="11"/></g>
<g id="node-y1"><circle class="ny" cx="530" cy="268" r="10"/></g>
<g id="node-y2"><circle class="ny" cx="557" cy="248" r="9"/></g>
<g id="node-y6"><circle class="ny" cx="462" cy="272" r="6"/></g>
<g id="node-defects"><circle class="ny" cx="478" cy="302" r="7"/></g>
<g id="node-doping"><circle class="ny" cx="332" cy="303" r="8"/></g>
<g id="node-coatings"><circle class="ny" cx="375" cy="352" r="7"/></g>
<g id="node-y3"><circle class="ny" cx="438" cy="347" r="7"/></g>
<g id="node-y4"><circle class="ny" cx="612" cy="384" r="9"/></g>
<g id="node-thin-film"><circle class="nc" cx="512" cy="153" r="10"/></g>
<g id="node-corrosion"><circle class="nc" cx="540" cy="185" r="13"/></g>
<g id="node-c1"><circle class="nc" cx="525" cy="217" r="7"/></g>
<g id="node-c2"><circle class="nc" cx="490" cy="245" r="9"/></g>
<g id="node-c3"><circle class="nc" cx="608" cy="280" r="8"/></g>
<g id="node-c4"><circle class="nc" cx="683" cy="292" r="9"/></g>
<g id="node-c5"><circle class="nc" cx="717" cy="200" r="9"/></g>
<g id="node-c6"><circle class="nc" cx="680" cy="166" r="7"/></g>
<g id="node-c7"><circle class="nc" cx="747" cy="82" r="7"/></g>
<g id="node-c8"><circle class="nc" cx="588" cy="318" r="10"/></g>
<g id="node-nanocomposite"><circle class="nc" cx="552" cy="337" r="13"/></g>
<g id="node-c10"><circle class="nc" cx="655" cy="347" r="8"/></g>
<g id="node-c11"><circle class="nc" cx="453" cy="368" r="14"/></g>
<g id="node-electrodeposition"><circle class="nc" cx="393" cy="280" r="8"/></g>
<g id="node-photocatalysis"><circle class="nc" cx="648" cy="265" r="21"/></g>
<g id="node-corrosion-resistance"><circle class="np" cx="662" cy="23" r="7"/></g>
<g id="node-coating"><circle class="np" cx="618" cy="43" r="7"/></g>
<g id="node-mechanical-properties"><circle class="np" cx="662" cy="73" r="7"/></g>
<g id="node-microstructure"><circle class="np" cx="555" cy="95" r="11"/></g>
<g id="node-thermal-stability"><circle class="np" cx="690" cy="103" r="11"/></g>
<g id="node-co-precipitation"><circle class="np" cx="753" cy="128" r="7"/></g>
<g id="node-p1"><circle class="np" cx="812" cy="140" r="7"/></g>
<g id="node-p2"><circle class="np" cx="868" cy="168" r="7"/></g>
<g id="node-sem"><circle class="np" cx="777" cy="182" r="6"/></g>
<g id="node-x-ray-diffraction"><circle class="np" cx="638" cy="213" r="12"/></g>
<g id="node-antibacterial-activity"><circle class="np" cx="818" cy="215" r="9"/></g>
<g id="node-metal-oxide"><circle class="np" cx="943" cy="248" r="7"/></g>
<g id="node-p3"><circle class="np" cx="602" cy="177" r="8"/></g>
<g id="node-p4"><circle class="np" cx="602" cy="243" r="8"/></g>
<g id="node-p5"><circle class="np" cx="788" cy="263" r="9"/></g>
<g id="node-adsorption"><circle class="np" cx="748" cy="277" r="17"/></g>
<g id="node-p6"><circle class="np" cx="712" cy="322" r="8"/></g>
<g id="node-zeta-potential"><circle class="nr" cx="1063" cy="247" r="7"/></g>
<g id="node-cytotoxicity"><circle class="nr" cx="886" cy="330" r="14"/></g>
<g id="node-r1"><circle class="nr" cx="925" cy="318" r="12"/></g>
<g id="node-genotoxicity"><circle class="nr" cx="1010" cy="315" r="8"/></g>
<g id="node-cerium-oxide-nanoparticle"><circle class="nr" cx="1043" cy="350" r="9"/></g>
<g id="node-r2"><circle class="nr" cx="1112" cy="337" r="10"/></g>
<g id="node-dna-damage"><circle class="nr" cx="1162" cy="382" r="7"/></g>
<g id="node-r3"><circle class="nr" cx="984" cy="365" r="8"/></g>
<g id="node-r4"><circle class="nr" cx="932" cy="387" r="7"/></g>
<g id="node-r5"><circle class="nr" cx="980" cy="420" r="8"/></g>
<g id="node-r6"><circle class="nr" cx="1078" cy="400" r="11"/></g>
<g id="node-r7"><circle class="nr" cx="830" cy="435" r="15"/></g>
<g id="node-r9"><circle class="nr" cx="987" cy="470" r="7"/></g>
<g id="node-r10"><circle class="nr" cx="1014" cy="480" r="8"/></g>
<g id="node-r11"><circle class="nr" cx="978" cy="501" r="8"/></g>
<g id="node-r8"><circle class="nr" cx="992" cy="554" r="7"/></g>
<g id="node-r12"><circle class="nr" cx="817" cy="517" r="9"/></g>
<g id="node-r13"><circle class="nr" cx="1140" cy="442" r="8"/></g>
<g id="node-drug-delivery"><circle class="nr" cx="1090" cy="493" r="8"/></g>
<g id="node-nanotechnology"><circle class="nr" cx="1037" cy="515" r="9"/></g>
<g id="node-blood-brain-barrier"><circle class="nr" cx="1052" cy="541" r="7"/></g>
<g id="node-antioxidant"><circle class="nr" cx="938" cy="540" r="15"/></g>
<g id="node-inflammation"><circle class="nr" cx="1157" cy="532" r="13"/></g>
<g id="node-oxidative-stress"><circle class="nr" cx="1077" cy="452" r="21"/></g>
<g id="node-nanoceria"><circle class="nr" cx="890" cy="442" r="23"/></g>
<g id="node-cerium-oxide-nanoparticles"><circle class="nr" cx="1027" cy="405" r="27"/></g>
<g id="node-nanoparticles"><circle class="nr" cx="742" cy="392" r="30"/></g>
<g id="node-cerium-dioxide"><circle class="no" cx="683" cy="427" r="17"/><circle class="no" cx="777" cy="427" r="15"/></g>
<g id="node-graphene-oxide"><circle class="no" cx="695" cy="510" r="12"/><circle class="no" cx="662" cy="526" r="8"/></g>
<g id="node-nanozyme"><circle class="no" cx="740" cy="537" r="9"/></g>
<g id="node-wound-healing"><circle class="no" cx="885" cy="577" r="9"/></g>
<g id="node-inhalation"><circle class="no" cx="1033" cy="623" r="7"/></g>
<g id="node-nanomaterial"><circle class="no" cx="1012" cy="648" r="7"/></g>
<g id="node-nanocomposites"><circle class="no" cx="480" cy="457" r="8"/></g>
<g id="node-degradation"><circle class="no" cx="588" cy="463" r="7"/></g>
<g id="node-toxicity"><circle class="nk" cx="867" cy="498" r="13"/></g>
<g id="node-morphology"><circle class="nk" cx="547" cy="398" r="8"/></g>
<g id="node-aggregation"><circle class="nk" cx="798" cy="480" r="6"/></g>
<g id="node-antibacterial"><circle class="nk" cx="800" cy="590" r="8"/></g>
<g id="node-ros"><circle class="nk" cx="922" cy="600" r="9"/></g>
<g id="node-nanomaterial-pink"><circle class="nk" cx="949" cy="649" r="8"/></g>
<g id="node-pk1"><circle class="nk" cx="830" cy="379" r="9"/></g>
<g id="node-catalytic-oxidation"><circle class="nb" cx="323" cy="570" r="10"/><circle class="nb" cx="393" cy="568" r="12"/></g>
<g id="node-ceria-nanoparticles"><circle class="nb" cx="557" cy="565" r="11"/></g>
<g id="node-zirconia"><circle class="nb" cx="337" cy="467" r="7"/></g>
<g id="node-silver"><circle class="nb" cx="403" cy="606" r="8"/></g>
<g id="node-conductivity"><circle class="nb" cx="357" cy="592" r="7"/></g>
<g id="node-solid-oxide-fuel-cells"><circle class="nb" cx="382" cy="650" r="12"/><circle class="nb" cx="415" cy="646" r="8"/></g>
<g id="node-b1"><circle class="nb" cx="453" cy="597" r="8"/></g>
<g id="node-biodiesel"><circle class="nb" cx="568" cy="588" r="6"/></g>
<g id="node-b2"><circle class="nb" cx="613" cy="599" r="7"/></g>
<g id="node-b3"><circle class="nb" cx="438" cy="552" r="10"/></g>
<g id="node-manganese"><circle class="nb" cx="468" cy="648" r="7"/></g>
<g id="node-electrolyte"><circle class="nb" cx="338" cy="695" r="7"/></g>
<g id="node-cathode"><circle class="nb" cx="358" cy="715" r="7"/></g>
<g id="node-selective-catalytic-reduction"><circle class="nb" cx="390" cy="697" r="7"/><circle class="nb" cx="450" cy="695" r="8"/><circle class="nb" cx="485" cy="707" r="10"/><circle class="nb" cx="493" cy="692" r="7"/></g>
<g id="node-br1"><circle class="nn" cx="406" cy="376" r="14"/></g>
<g id="node-br2"><circle class="nn" cx="420" cy="445" r="8"/></g>
<g id="node-heterogeneous-catalysis"><circle class="nn" cx="480" cy="528" r="10"/><circle class="nn" cx="380" cy="532" r="8"/><circle class="nn" cx="352" cy="553" r="9"/></g>
<g id="node-metal-support-interaction"><circle class="nn" cx="202" cy="498" r="8"/></g>
<g id="node-doped-ceria"><circle class="nn" cx="240" cy="568" r="8"/></g>
<g id="node-sintering"><circle class="nn" cx="193" cy="603" r="6"/></g>
<g id="node-dna"><circle class="nn" cx="813" cy="633" r="7"/></g>
<g id="node-ceria"><circle class="ng" cx="442" cy="412" r="26"/></g>
<g id="node-cerium-oxide"><circle class="ng" cx="505" cy="368" r="44"/></g>
</g>
<g id="labels">
<text class="t" x="662.5" y="23" font-size="15" textLength="155" lengthAdjust="spacingAndGlyphs">corrosion resistance</text>
<text class="f" x="618.5" y="42" font-size="13" textLength="53" lengthAdjust="spacingAndGlyphs">coating</text>
<text class="l" x="662.5" y="73" font-size="15" textLength="169" lengthAdjust="spacingAndGlyphs">mechanical properties</text>
<text class="t" x="555" y="95" font-size="16" textLength="122" lengthAdjust="spacingAndGlyphs">microstructure</text>
<text class="t" x="692.5" y="104" font-size="16" textLength="133" lengthAdjust="spacingAndGlyphs">thermal stability</text>
<text class="l" x="753" y="128" font-size="14" textLength="118" lengthAdjust="spacingAndGlyphs">co-precipitation</text>
<text class="l" x="367" y="122" font-size="14" textLength="70" lengthAdjust="spacingAndGlyphs" opacity=".7">structure</text>
<text class="t" x="453.5" y="127" font-size="15" textLength="125" lengthAdjust="spacingAndGlyphs">crystal structure</text>
<text class="t" x="339.5" y="150" font-size="15" textLength="99" lengthAdjust="spacingAndGlyphs">copper oxide</text>
<text class="t" x="513" y="152" font-size="16" textLength="68" lengthAdjust="spacingAndGlyphs">thin film</text>
<text class="t" x="441.5" y="180" font-size="17" textLength="73" lengthAdjust="spacingAndGlyphs">catalysis</text>
<text class="t" x="539" y="185" font-size="17" textLength="84" lengthAdjust="spacingAndGlyphs">corrosion</text>
<text class="t" x="777.5" y="182" font-size="15" textLength="225" lengthAdjust="spacingAndGlyphs">scanning electron microscopy</text>
<text class="t" x="354" y="208" font-size="16" textLength="54" lengthAdjust="spacingAndGlyphs">oxides</text>
<text class="l" x="461" y="209" font-size="15" textLength="144" lengthAdjust="spacingAndGlyphs">optical properties</text>
<text class="t" x="638" y="212" font-size="17" textLength="142" lengthAdjust="spacingAndGlyphs">x-ray diffraction</text>
<text class="t" x="818.5" y="213" font-size="16" textLength="163" lengthAdjust="spacingAndGlyphs">antibacterial activity</text>
<text class="t" x="945" y="248" font-size="14" textLength="88" lengthAdjust="spacingAndGlyphs">metal oxide</text>
<text class="t" x="1064" y="248" font-size="14" textLength="102" lengthAdjust="spacingAndGlyphs">zeta potential</text>
<text class="t" x="188.5" y="260" font-size="14" textLength="111" lengthAdjust="spacingAndGlyphs">solid solutions</text>
<text class="t" x="433" y="255" font-size="17" textLength="182" lengthAdjust="spacingAndGlyphs">raman spectroscopy</text>
<text class="t" x="647.5" y="265" font-size="20" textLength="149" lengthAdjust="spacingAndGlyphs">photocatalysis</text>
<text class="t" x="393.5" y="280" font-size="16" textLength="145" lengthAdjust="spacingAndGlyphs">electrodeposition</text>
<text class="f" x="760" y="278" font-size="18" textLength="90" lengthAdjust="spacingAndGlyphs">adsorption</text>
<text class="f" x="166" y="313" font-size="14" textLength="68" lengthAdjust="spacingAndGlyphs">platinum</text>
<text class="f" x="331.5" y="302" font-size="14" textLength="53" lengthAdjust="spacingAndGlyphs">doping</text>
<text class="f" x="479" y="299" font-size="14" textLength="58" lengthAdjust="spacingAndGlyphs">defects</text>
<text class="t" x="198" y="330" font-size="15" textLength="46" lengthAdjust="spacingAndGlyphs">nickel</text>
<text class="t" x="885.5" y="328" font-size="16" textLength="101" lengthAdjust="spacingAndGlyphs">cytotoxicity</text>
<text class="t" x="1010.5" y="314" font-size="15" textLength="101" lengthAdjust="spacingAndGlyphs">genotoxicity</text>
<text class="t" x="1044" y="348" font-size="15" textLength="216" lengthAdjust="spacingAndGlyphs">cerium oxide nanoparticle</text>
<text class="t" x="167" y="357" font-size="14" textLength="104" lengthAdjust="spacingAndGlyphs">dry reforming</text>
<text class="t" x="291.5" y="358" font-size="20" textLength="127" lengthAdjust="spacingAndGlyphs">co oxidation</text>
<text class="f" x="374.5" y="352" font-size="14" textLength="63" lengthAdjust="spacingAndGlyphs">coatings</text>
<text class="f" x="535" y="340" font-size="14" textLength="102" lengthAdjust="spacingAndGlyphs">nanocomposite</text>
<text class="t" x="521" y="368" font-size="30" textLength="178" lengthAdjust="spacingAndGlyphs">cerium oxide</text>
<text class="t" x="743.5" y="392" font-size="28" textLength="177" lengthAdjust="spacingAndGlyphs">nanoparticles</text>
<text class="f" x="1161.5" y="381" font-size="14" textLength="91" lengthAdjust="spacingAndGlyphs">dna damage</text>
<text class="f" x="380" y="393" font-size="16" textLength="85" lengthAdjust="spacingAndGlyphs">oxidation</text>
<text class="l" x="547" y="399" font-size="16" textLength="102" lengthAdjust="spacingAndGlyphs" opacity=".75">morphology</text>
<text class="t" x="99" y="419" font-size="17" textLength="178" lengthAdjust="spacingAndGlyphs">hydrogen production</text>
<text class="t" x="267.5" y="413" font-size="17" textLength="67" lengthAdjust="spacingAndGlyphs">catalyst</text>
<text class="t" x="442" y="412" font-size="26" textLength="58" lengthAdjust="spacingAndGlyphs">ceria</text>
<text class="m" x="683.5" y="428" font-size="20" textLength="153" lengthAdjust="spacingAndGlyphs">cerium dioxide</text>
<text class="t" x="1025" y="406" font-size="26" textLength="336" lengthAdjust="spacingAndGlyphs">cerium oxide nanoparticles</text>
<text class="t" x="889" y="443" font-size="21" textLength="108" lengthAdjust="spacingAndGlyphs">nanoceria</text>
<text class="t" x="1074.5" y="453" font-size="20" textLength="171" lengthAdjust="spacingAndGlyphs">oxidative stress</text>
<text class="t" x="230.5" y="443" font-size="17" textLength="85" lengthAdjust="spacingAndGlyphs">hydrogen</text>
<text class="t" x="337" y="466" font-size="14" textLength="58" lengthAdjust="spacingAndGlyphs">zirconia</text>
<text class="t" x="480.5" y="458" font-size="15" textLength="137" lengthAdjust="spacingAndGlyphs">nanocomposites</text>
<text class="l" x="591" y="463" font-size="14" textLength="86" lengthAdjust="spacingAndGlyphs">degradation</text>
<text class="l" x="797" y="479" font-size="14" textLength="88" lengthAdjust="spacingAndGlyphs">aggregation</text>
<text class="t" x="868" y="498" font-size="16" textLength="64" lengthAdjust="spacingAndGlyphs">toxicity</text>
<text class="t" x="203.5" y="498" font-size="15" textLength="195" lengthAdjust="spacingAndGlyphs">metal-support interaction</text>
<text class="t" x="354" y="498" font-size="15" textLength="50" lengthAdjust="spacingAndGlyphs">cobalt</text>
<text class="f" x="391.5" y="487" font-size="13" textLength="27" lengthAdjust="spacingAndGlyphs">gold</text>
<text class="t" x="481.5" y="527" font-size="17" textLength="217" lengthAdjust="spacingAndGlyphs">heterogeneous catalysis</text>
<text class="t" x="573" y="550" font-size="15" textLength="50" lengthAdjust="spacingAndGlyphs">copper</text>
<text class="t" x="695" y="511" font-size="17" textLength="142" lengthAdjust="spacingAndGlyphs">graphene oxide</text>
<text class="m" x="1036" y="511" font-size="16" textLength="134" lengthAdjust="spacingAndGlyphs">nanotechnology</text>
<text class="f" x="1090.5" y="494" font-size="14" textLength="95" lengthAdjust="spacingAndGlyphs">drug delivery</text>
<text class="t" x="1158" y="531" font-size="18" textLength="120" lengthAdjust="spacingAndGlyphs">inflammation</text>
<text class="l" x="740" y="536" font-size="15" textLength="86" lengthAdjust="spacingAndGlyphs">nanozyme</text>
<text class="t" x="937" y="540" font-size="16" textLength="102" lengthAdjust="spacingAndGlyphs">antioxidant</text>
<text class="f" x="1056" y="540" font-size="14" textLength="132" lengthAdjust="spacingAndGlyphs">blood-brain barrier</text>
<text class="t" x="211" y="539" font-size="15" textLength="86" lengthAdjust="spacingAndGlyphs">perovskite</text>
<text class="t" x="239" y="567" font-size="16" textLength="98" lengthAdjust="spacingAndGlyphs">doped ceria</text>
<text class="t" x="393.5" y="568" font-size="17" textLength="163" lengthAdjust="spacingAndGlyphs">catalytic oxidation</text>
<text class="t" x="556" y="566" font-size="15" textLength="156" lengthAdjust="spacingAndGlyphs">ceria nanoparticles</text>
<text class="l" x="885" y="575" font-size="15" textLength="124" lengthAdjust="spacingAndGlyphs">wound healing</text>
<text class="f" x="356.5" y="591" font-size="14" textLength="87" lengthAdjust="spacingAndGlyphs">conductivity</text>
<text class="l" x="569" y="588" font-size="13" textLength="66" lengthAdjust="spacingAndGlyphs" opacity=".8">biodiesel</text>
<text class="f" x="801.5" y="591" font-size="14" textLength="93" lengthAdjust="spacingAndGlyphs">antibacterial</text>
<text class="t" x="923" y="599" font-size="16" textLength="28" lengthAdjust="spacingAndGlyphs">ros</text>
<text class="t" x="403.5" y="604" font-size="15" textLength="43" lengthAdjust="spacingAndGlyphs">silver</text>
<text class="t" x="193.5" y="603" font-size="14" textLength="67" lengthAdjust="spacingAndGlyphs">sintering</text>
<text class="t" x="1033.5" y="621" font-size="15" textLength="77" lengthAdjust="spacingAndGlyphs">inhalation</text>
<text class="f" x="473" y="650" font-size="14" textLength="75" lengthAdjust="spacingAndGlyphs">manganese</text>
<text class="t" x="382" y="650" font-size="17" textLength="184" lengthAdjust="spacingAndGlyphs">solid oxide fuel cells</text>
<text class="t" x="813" y="633" font-size="15" textLength="32" lengthAdjust="spacingAndGlyphs">dna</text>
<text class="t" x="1012" y="648" font-size="15" textLength="102" lengthAdjust="spacingAndGlyphs">nanomaterial</text>
<text class="l" x="338.5" y="693" font-size="14" textLength="81" lengthAdjust="spacingAndGlyphs">electrolyte</text>
<text class="f" x="358.5" y="717" font-size="13" textLength="60" lengthAdjust="spacingAndGlyphs">cathode</text>
<text class="t" x="485" y="704" font-size="18" textLength="248" lengthAdjust="spacingAndGlyphs">selective catalytic reduction</text>
</g>
</svg>
